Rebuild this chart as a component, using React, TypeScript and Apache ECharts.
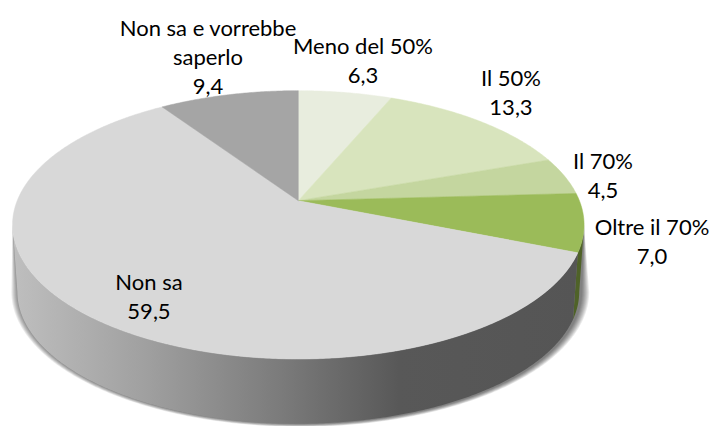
import React, { useEffect, useRef } from "react";
import * as echarts from "echarts";

const categories = ["Meno del 50%", "Il 50%", "Il 70%", "Oltre il 70%", "Non sa", "Non sa e vorrebbe\nsaperlo"];
const seriesValues = [6.3, 13.3, 4.5, 7.0, 59.5, 9.4];
const valueLabels = ["6,3", "13,3", "4,5", "7,0", "59,5", "9,4"];
const topColors = ["#e8edde", "#d8e4bd", "#c4d69f", "#9bbb59", "#d8d8d8", "#a5a5a5"];

// Label centres, in pixels, per slice
const labelCentres = [
  [363, 60],
  [511, 92],
  [603, 175],
  [652, 241],
  [149, 296],
  [208, 56],
];

// Perspective of the pie's top face
const AX = 281.1, AY = 129.8, K = 0.18, X0 = 298.3, Y0 = 200.7;
const ELL_CX = X0, ELL_CY = 225;
const DEPTH = 67, LOWER_SCALE = 0.983;
const TANGENT_R = 100.4, TANGENT_L = 259.6;
// Soft shadow, as stacked translucent outlines (outermost first)
const shadowSpreads = [8, 7, 6, 5, 4, 3, 2, 1];

const total = seriesValues.reduce((a, b) => a + b, 0);
const ranges: number[][] = [];
{
  let acc = 0;
  for (const v of seriesValues) {
    ranges.push([(acc / total) * 360, ((acc + v) / total) * 360]);
    acc += v;
  }
}

function rim(deg: number): number[] {
  const t = (deg * Math.PI) / 180;
  const u = Math.sin(t);
  const v = -Math.cos(t);
  const w = 1 - K * v;
  return [X0 + (AX * u) / w, Y0 + (AY * v) / w];
}
function lowerRim(deg: number): number[] {
  const [x, y] = rim(deg);
  return [ELL_CX + (x - ELL_CX) * LOWER_SCALE, ELL_CY + (y - ELL_CY) * LOWER_SCALE + DEPTH];
}
function arc(fn: (d: number) => number[], a: number, b: number): number[][] {
  const n = Math.max(2, Math.ceil(Math.abs(b - a) * 2));
  const pts: number[][] = [];
  for (let i = 0; i <= n; i++) pts.push(fn(a + ((b - a) * i) / n));
  return pts;
}
function wallPoints(a: number, b: number): number[][] {
  return [...arc(rim, a, b), ...arc(lowerRim, b, a)];
}
function shadowPoints(d: number): number[][] {
  const cy = ELL_CY + DEPTH;
  const lower = arc(lowerRim, TANGENT_L, TANGENT_R).map(([x, y]) => [
    ELL_CX + (x - ELL_CX) * (1 + d / 281) + 2,
    cy + (y - cy) * (1 + (d * 0.4) / 134),
  ]);
  return [...arc(rim, TANGENT_R, TANGENT_L), ...lower];
}

const greyWall = {
  type: "linear", x: 15, y: 0, x2: 580, y2: 0, global: true,
  colorStops: [
    { offset: 0, color: "#bebebe" },
    { offset: 0.23, color: "#a0a0a0" },
    { offset: 0.47, color: "#7b7b7b" },
    { offset: 0.68, color: "#585858" },
    { offset: 1, color: "#555555" },
  ],
};
const wallFill = (i: number) => (i === 3 ? "#4f6228" : greyWall);

export default function App() {
  const ref = useRef<HTMLDivElement>(null);
  useEffect(() => {
    const chart = echarts.init(ref.current!, null, { renderer: "svg" });
    chart.setOption({
      animation: false,
      series: [
        {
          type: "custom",
          coordinateSystem: "none",
          silent: true,
          data: shadowSpreads.map((d) => [d]),
          renderItem: (params: any) => ({
            type: "polygon",
            shape: { points: shadowPoints(shadowSpreads[params.dataIndex]) },
            style: { fill: "rgba(0,0,0,0.08)" },
          }),
        },
        {
          type: "custom",
          coordinateSystem: "none",
          silent: true,
          data: categories.map((_, i) => [i, seriesValues[i]]),
          renderItem: (params: any) => {
            const i = params.dataIndex;
            const a = Math.max(ranges[i][0], TANGENT_R);
            const b = Math.min(ranges[i][1], TANGENT_L);
            if (b <= a) return { type: "group", children: [] };
            return {
              type: "polygon",
              shape: { points: wallPoints(a, b) },
              style: { fill: wallFill(i) },
            };
          },
        },
        {
          type: "custom",
          coordinateSystem: "none",
          silent: true,
          data: categories.map((_, i) => [i, seriesValues[i]]),
          renderItem: (params: any) => {
            const i = params.dataIndex;
            return {
              type: "polygon",
              shape: { points: [[X0, Y0], ...arc(rim, ranges[i][0], ranges[i][1])] },
              style: { fill: topColors[i], stroke: topColors[i], lineWidth: 0.5 },
            };
          },
        },
        {
          type: "custom",
          coordinateSystem: "none",
          silent: true,
          data: categories.map((_, i) => [i, seriesValues[i]]),
          renderItem: (params: any) => {
            const i = params.dataIndex;
            return {
              type: "text",
              x: labelCentres[i][0],
              y: labelCentres[i][1],
              style: {
                text: categories[i] + "\n" + valueLabels[i],
                fontFamily: "Lato",
                fontSize: 22,
                lineHeight: 29,
                align: "center",
                verticalAlign: "middle",
                fill: "#000000",
              },
            };
          },
        },
      ],
    });
    return () => chart.dispose();
  }, []);
  return <div ref={ref} style={{ position: "absolute", left: 0, top: 0, width: 710, height: 426, background: "#fff" }} />;
}
